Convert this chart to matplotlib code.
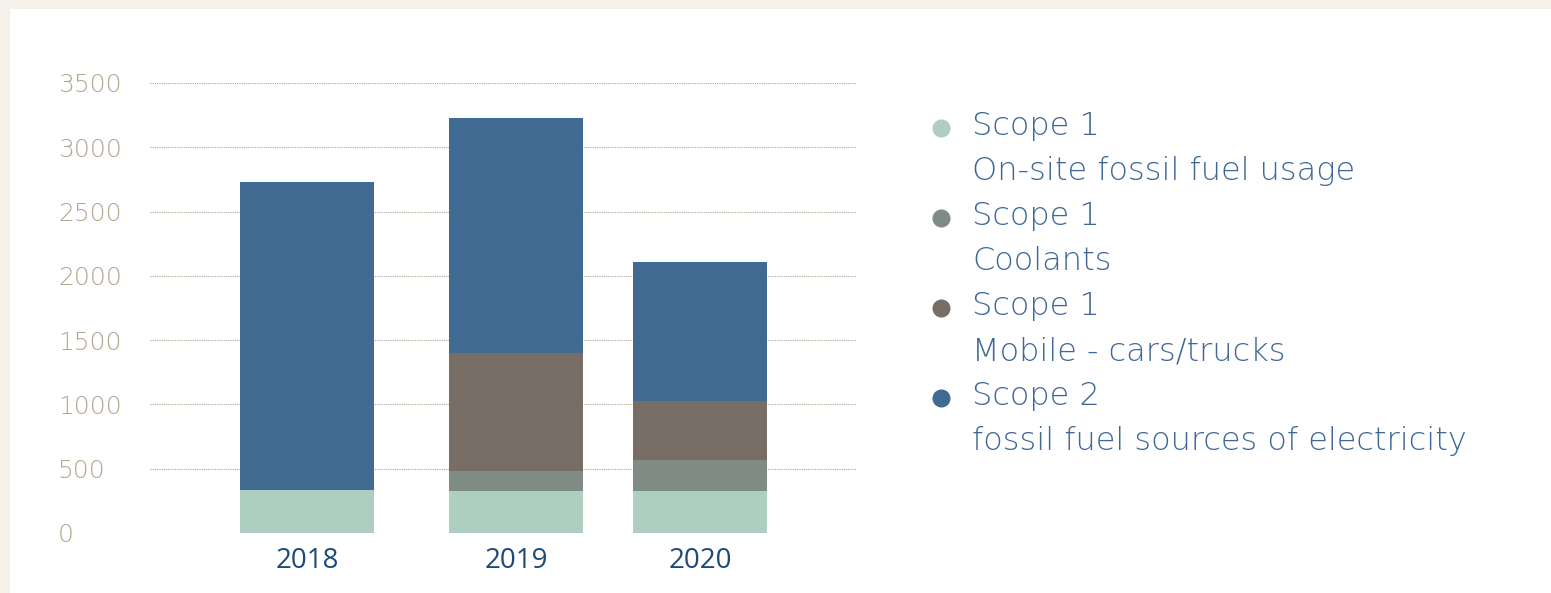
"""
Stacked bar chart of Scope 1 / Scope 2 emissions by year.
"""

import matplotlib
matplotlib.use("Agg")
import matplotlib.pyplot as plt
from matplotlib.patches import Rectangle
from matplotlib.lines import Line2D

YEARS = ["2018", "2019", "2020"]
ONSITE = [334, 327, 327]
COOLANTS = [0, 155, 241]
MOBILE = [0, 918, 459]
SCOPE2 = [2396, 1828, 1081]

Y_TICKS = [0, 500, 1000, 1500, 2000, 2500, 3000, 3500]

SERIES = [
    ("Scope 1", "On-site fossil fuel usage", ONSITE, "#aecfbf"),
    ("Scope 1", "Coolants", COOLANTS, "#7f8c85"),
    ("Scope 1", "Mobile - cars/trucks", MOBILE, "#786d64"),
    ("Scope 2", "fossil fuel sources of electricity", SCOPE2, "#416a93"),
]

X_POS = [0, 1.0, 1.88]
BAR_W = 0.64
W, H, DPI = 1551, 593, 100

TICK_COLOR = "#b3a68e"
GRID_COLOR = "#b0a590"
YEAR_COLOR = "#1d4a78"
LEGEND_COLOR = "#3f6898"
LIGHT = ["DejaVu Sans"]


def main():
    fig = plt.figure(figsize=(W / DPI, H / DPI), dpi=DPI, facecolor="#f6f1e8")
    fig.add_artist(Rectangle((10 / W, 0), 1, 1 - 9 / H, transform=fig.transFigure,
                             facecolor="white", edgecolor="none", zorder=0))

    ax = fig.add_axes([150 / W, 1 - 533 / H, (857 - 150) / W, 450 / H])
    ax.set_facecolor("none")

    bottom = [0] * len(YEARS)
    for _, _, vals, color in SERIES:
        ax.bar(X_POS, vals, width=BAR_W, bottom=bottom, color=color,
               edgecolor="none", zorder=3)
        bottom = [b + v for b, v in zip(bottom, vals)]

    ax.set_ylim(0, 3500)
    ax.set_xlim(-0.75, 2.63)
    ax.set_yticks(Y_TICKS)
    ax.set_yticklabels([str(t) for t in Y_TICKS], ha="left", color=TICK_COLOR,
                       fontsize=18, fontweight=200, family=LIGHT)
    ax.tick_params(axis="y", length=0, pad=92 * 72 / DPI)
    ax.set_xticks(X_POS)
    ax.set_xticklabels(YEARS, color=YEAR_COLOR, fontsize=20, fontweight="normal",
                       family=["Open Sans", "DejaVu Sans"])
    ax.tick_params(axis="x", length=0, pad=10)
    ax.grid(axis="y", color=GRID_COLOR, linestyle=(0, (1, 1)), linewidth=0.8, zorder=0)
    for s in ax.spines.values():
        s.set_visible(False)

    # legend drawn by hand: dot + two text lines per series
    y0, step = 126, 45
    for i, (title, desc, _, color) in enumerate(SERIES):
        yt = y0 + 2 * i * step
        fig.add_artist(Line2D([941 / W], [1 - (yt + 2) / H], transform=fig.transFigure,
                              marker="o", markersize=12, color=color, linestyle="none"))
        for j, txt in enumerate([title, desc]):
            fig.text(972 / W, 1 - (yt + j * step) / H, txt, ha="left", va="center",
                     color=LEGEND_COLOR, fontsize=23, fontweight=200, family=LIGHT)

    fig.savefig("out.png", dpi=DPI, facecolor=fig.get_facecolor())
    plt.close(fig)


if __name__ == "__main__":
    main()
